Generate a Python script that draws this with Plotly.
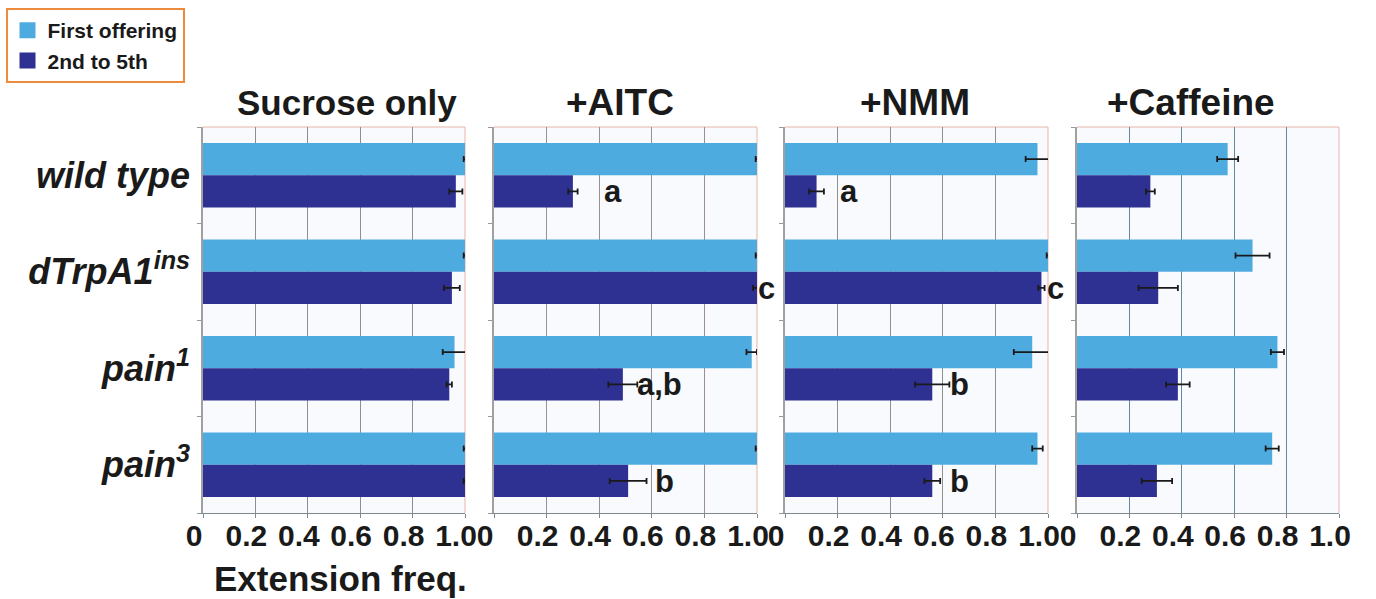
import plotly.graph_objects as go

# Genotypes (top to bottom) and treatment panels
genotypes = ["wild type", "dTrpA1<sup>ins</sup>", "pain<sup>1</sup>", "pain<sup>3</sup>"]
panels = ["Sucrose only", "+AITC", "+NMM", "+Caffeine"]

# Extension frequency, first offering
first_sucrose = [1.00, 1.00, 0.96, 1.00]
first_aitc = [1.00, 1.00, 0.98, 1.00]
first_nmm = [0.96, 1.00, 0.94, 0.96]
first_caffeine = [0.575, 0.67, 0.765, 0.745]

first_err_sucrose = [0.005, 0.005, 0.045, 0.005]
first_err_aitc = [0.005, 0.005, 0.02, 0.005]
first_err_nmm = [0.045, 0.005, 0.07, 0.02]
first_err_caffeine = [0.04, 0.065, 0.025, 0.025]

# Extension frequency, 2nd to 5th offerings
later_sucrose = [0.965, 0.95, 0.94, 1.00]
later_aitc = [0.30, 1.00, 0.49, 0.51]
later_nmm = [0.12, 0.975, 0.56, 0.56]
later_caffeine = [0.28, 0.31, 0.385, 0.305]

later_err_sucrose = [0.025, 0.03, 0.01, 0.005]
later_err_aitc = [0.018, 0.015, 0.055, 0.07]
later_err_nmm = [0.028, 0.012, 0.065, 0.03]
later_err_caffeine = [0.017, 0.075, 0.045, 0.058]

# Significance letters on the 2nd-5th bars
letters_aitc = ["a", "c", "a,b", "b"]
letters_nmm = ["a", "c", "b", "b"]

x_ticks = [0, 0.2, 0.4, 0.6, 0.8, 1.0]
x_tick_text = ["0", "0.2", "0.4", "0.6", "0.8", "1.0"]

LIGHT = "#4eabe0"
DARK = "#2e3192"
FONT = "Liberation Sans"
W, H = 1376, 599

first = [first_sucrose, first_aitc, first_nmm, first_caffeine]
first_err = [first_err_sucrose, first_err_aitc, first_err_nmm, first_err_caffeine]
later = [later_sucrose, later_aitc, later_nmm, later_caffeine]
later_err = [later_err_sucrose, later_err_aitc, later_err_nmm, later_err_caffeine]

# panel placement in pixels
x_px = [(203, 465), (494, 757), (785, 1048), (1077, 1339)]
y_px = (127, 513)
title_cx = [347, 620, 915, 1191]
title_size = [35, 37, 37, 37]
grid_colors = ["#8e8e8e", "#9a9090", "#8f9090", "#5f8a98"]

fig = go.Figure()
for i in range(4):
    sfx = "" if i == 0 else str(i + 1)
    xa, ya = "x" + sfx, "y" + sfx
    fig.add_trace(go.Bar(
        y=genotypes, x=first[i], orientation="h", name="First offering",
        marker=dict(color=LIGHT, line=dict(width=0)),
        error_x=dict(type="data", array=first_err[i], color="#1a1a1a", thickness=1.8, width=3),
        xaxis=xa, yaxis=ya, showlegend=False,
    ))
    fig.add_trace(go.Bar(
        y=genotypes, x=later[i], orientation="h", name="2nd to 5th",
        marker=dict(color=DARK, line=dict(width=0)),
        error_x=dict(type="data", array=later_err[i], color="#1a1a1a", thickness=1.8, width=3),
        xaxis=xa, yaxis=ya, showlegend=False,
    ))

    x0, x1 = x_px[i]
    dom_x = [x0 / W, x1 / W]
    dom_y = [1 - y_px[1] / H, 1 - y_px[0] / H]
    fig.layout["xaxis" + sfx] = dict(
        domain=dom_x, range=[0, 1.0], anchor=ya, automargin=False,
        tickvals=x_ticks, ticktext=["<b>%s</b>" % t for t in x_tick_text],
        tickfont=dict(family=FONT, size=30, color="#1a1a1a"),
        showgrid=True, gridcolor=grid_colors[i], gridwidth=1, zeroline=False,
        showline=True, linecolor="#7d8a90", linewidth=1,
        ticks="outside", ticklen=4, tickcolor="#7d8a90",
        ticklabelstandoff=-8, ticklabelshift=-9,
        fixedrange=True,
    )
    fig.layout["yaxis" + sfx] = dict(
        domain=dom_y, anchor=xa, autorange="reversed", type="category",
        categoryorder="array", categoryarray=genotypes, automargin=False,
        tickvals=genotypes,
        ticktext=["<b><i>%s</i></b>" % g for g in genotypes],
        showticklabels=(i == 0),
        tickfont=dict(family=FONT, size=36, color="#1a1a1a"),
        ticks="outside", tickson="boundaries", ticklen=4, tickcolor="#999",
        showline=True, linecolor="#a0a0a0", linewidth=1.5,
        showgrid=False, zeroline=False, ticklabelstandoff=4,
    )
    # light red top and right frame lines
    fig.add_shape(type="line", xref=xa + " domain", yref=ya + " domain",
                  x0=0, x1=1, y0=1, y1=1, line=dict(color="#e9b4aa", width=1), layer="below")
    fig.add_shape(type="line", xref=xa + " domain", yref=ya + " domain",
                  x0=1, x1=1, y0=0, y1=1, line=dict(color="#e9b4aa", width=1), layer="below")

    fig.add_annotation(
        text="<b>%s</b>" % panels[i], xref="paper", yref="paper",
        x=title_cx[i] / W, y=1 - 103 / H, xanchor="center", yanchor="middle",
        showarrow=False, font=dict(family=FONT, size=title_size[i], color="#1a1a1a"),
    )

# legend entries as square swatches
for name, color in [("First offering", LIGHT), ("2nd to 5th", DARK)]:
    fig.add_trace(go.Scatter(
        x=[None], y=[None], mode="markers", name="<b>%s</b>" % name,
        marker=dict(symbol="square", size=16, color=color),
        xaxis="x", yaxis="y", showlegend=True,
    ))

# letter positions (left edge, data units) for the 2nd-5th bars
letter_x_aitc = [0.41, 0.995, 0.535, 0.605]
letter_x_nmm = [0.20, 0.99, 0.62, 0.62]
for letters, lx, xa, ya in [(letters_aitc, letter_x_aitc, "x2", "y2"),
                            (letters_nmm, letter_x_nmm, "x3", "y3")]:
    for k, (txt, xv) in enumerate(zip(letters, lx)):
        fig.add_annotation(
            text="<b>%s</b>" % txt, xref=xa, yref=ya, x=xv, y=k + 0.17,
            xanchor="left", yanchor="middle", showarrow=False,
            font=dict(family=FONT, size=31, color="#1a1a1a"),
        )

fig.add_annotation(
    text="<b>Extension freq.</b>", xref="paper", yref="paper",
    x=340 / W, y=1 - 578 / H, xanchor="center", yanchor="middle",
    showarrow=False, font=dict(family=FONT, size=35, color="#1a1a1a"),
)

fig.update_layout(
    width=W, height=H, margin=dict(l=0, r=0, t=0, b=0),
    paper_bgcolor="white", plot_bgcolor="#f9fafd",
    barmode="group", bargap=0.33, bargroupgap=0,
    legend=dict(
        x=0.004, y=1 - 8 / H, xanchor="left", yanchor="top",
        bordercolor="#ee8a3c", borderwidth=2, bgcolor="white",
        font=dict(family=FONT, size=21, color="#1a1a1a"),
        itemwidth=30, tracegroupgap=0,
    ),
    font=dict(family=FONT),
)

fig.write_html("out.html")
